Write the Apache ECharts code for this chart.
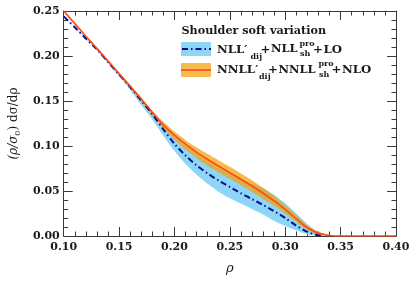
<!DOCTYPE html>
<html>
<head>
<meta charset="utf-8">
<script src="https://cdn.jsdelivr.net/npm/echarts@6/dist/echarts.min.js"></script>
<style>html,body{margin:0;padding:0;background:#fff}#c{width:415px;height:283px}</style>
</head>
<body>
<div id="c"></div>
<script>
// ---- data ----
var rhoNNLL   = [0.10,0.11,0.12,0.13,0.14,0.15,0.16,0.17,0.18,0.19,0.20,0.21,0.22,0.23,0.24,0.25,0.26,0.27,0.28,0.29,0.30,0.31,0.32,0.33,0.34,0.35,0.36,0.37,0.38,0.39,0.40];
var nnllCentral = [0.250,0.236,0.222,0.2085,0.1945,0.1805,0.1665,0.1525,0.1375,0.1235,0.112,0.102,0.093,0.085,0.0775,0.0703,0.063,0.0555,0.0475,0.039,0.0295,0.019,0.0092,0.0032,0.0006,0,0,0,0,0,0];
var nnllLow   = [0.250,0.2355,0.2215,0.2080,0.1938,0.1795,0.1652,0.149,0.134,0.1195,0.107,0.096,0.0865,0.078,0.0705,0.0635,0.0565,0.049,0.0415,0.0335,0.025,0.0155,0.0065,0.0018,0,0,0,0,0,0,0];
var nnllHigh  = [0.250,0.2365,0.2225,0.2090,0.1952,0.1815,0.1678,0.153,0.139,0.127,0.116,0.1065,0.0985,0.091,0.084,0.077,0.0695,0.062,0.0535,0.0445,0.034,0.0235,0.0118,0.0045,0.0008,0,0,0,0,0,0];

var rhoNLL    = [0.10,0.11,0.12,0.13,0.14,0.15,0.16,0.17,0.18,0.19,0.20,0.21,0.22,0.23,0.24,0.25,0.26,0.27,0.28,0.29,0.30,0.31,0.32,0.33,0.335];
var nllCentral = [0.244,0.232,0.2195,0.2075,0.1935,0.1795,0.1655,0.1505,0.1355,0.1185,0.1025,0.0895,0.0785,0.0695,0.0615,0.0545,0.0475,0.041,0.0345,0.0275,0.020,0.0115,0.0045,0.0008,0];
var nllLow    = [0.244,0.2315,0.2185,0.2062,0.1920,0.1775,0.1625,0.1455,0.1295,0.1115,0.0945,0.080,0.068,0.058,0.049,0.042,0.036,0.030,0.024,0.017,0.011,0.006,0.002,0,0];
var nllHigh   = [0.244,0.2325,0.2205,0.2088,0.1950,0.1810,0.1670,0.1515,0.138,0.1245,0.1115,0.1005,0.091,0.083,0.0755,0.069,0.063,0.0585,0.053,0.0455,0.0365,0.025,0.013,0.004,0];

var xTicks = [0.10,0.15,0.20,0.25,0.30,0.35,0.40];
var yTicks = [0.00,0.05,0.10,0.15,0.20,0.25];

var legendTitle = 'Shoulder soft variation';

function pairs(xs, ys){ return xs.map(function(x,i){ return [x, ys[i]]; }); }
function triples(xs, lo, hi){ return xs.map(function(x,i){ return [x, lo[i], hi[i]]; }); }

var axisCol = '#3a3a3a';

function mkX(show){
  return {
    type:'value', min:xTicks[0], max:xTicks[xTicks.length-1], interval:0.05,
    position: show ? 'bottom' : 'top',
    axisLine:{show:true, onZero:false, lineStyle:{color:axisCol, width:1}},
    axisTick:{show:true, inside:true, length:9, lineStyle:{color:axisCol}},
    minorTick:{show:true, splitNumber:5, length:4.5, lineStyle:{color:axisCol}},
    splitLine:{show:false},
    axisLabel:{show:show, margin:6, formatter:function(v){return v.toFixed(2);}, fontFamily:'DejaVu Serif', fontWeight:'bold', fontSize:11, color:'#1a1a1a'},
    name: show ? 'ρ' : '', nameLocation:'middle', nameGap:26,
    nameTextStyle:{fontFamily:'DejaVu Serif', fontStyle:'italic', fontSize:13, color:'#1a1a1a'}
  };
}
function mkY(show){
  return {
    type:'value', min:yTicks[0], max:yTicks[yTicks.length-1], interval:0.05,
    position: show ? 'left' : 'right',
    axisLine:{show:true, onZero:false, lineStyle:{color:axisCol, width:1}},
    axisTick:{show:true, inside:true, length:9, lineStyle:{color:axisCol}},
    minorTick:{show:true, splitNumber:5, length:4.5, lineStyle:{color:axisCol}},
    splitLine:{show:false},
    axisLabel:{show:show, margin:4, formatter:function(v){return v.toFixed(2);}, fontFamily:'DejaVu Serif', fontWeight:'bold', fontSize:11, color:'#1a1a1a'},
    name: show ? '{i|(ρ/σ}{s|0}{u|) dσ/dρ}' : '', nameLocation:'middle', nameGap:40, nameRotate:90,
    nameTextStyle:{
      rich:{
        i:{fontFamily:'DejaVu Serif', fontStyle:'italic', fontSize:12, color:'#1a1a1a', lineHeight:16, verticalAlign:'middle'},
        u:{fontFamily:'DejaVu Serif', fontSize:12, color:'#1a1a1a', lineHeight:16, verticalAlign:'middle'},
        s:{fontFamily:'DejaVu Serif', fontSize:8, color:'#1a1a1a', lineHeight:16, verticalAlign:'bottom', padding:[4,0,0,0]}
      }
    }
  };
}

var blueBand = '#8dd6f7';
var orangeBand = 'rgba(242,160,10,0.72)';
var orangeLine = '#ff4a12';
var navy = '#0d0d8c';
var blueDash = [6,3,1.5,3];

function bandSeries(name, xs, lo, hi, color, z){
  return {
    type:'custom', name:name, z:z, silent:true,
    data: triples(xs, lo, hi),
    encode:{x:0, y:[1,2]},
    renderItem:function(params, api){
      if(params.dataIndex !== 0) return null;
      var top = [], bot = [];
      for(var i=0;i<xs.length;i++){
        top.push(api.coord([xs[i], hi[i]]));
        bot.push(api.coord([xs[i], lo[i]]));
      }
      var pts = top.concat(bot.reverse());
      return {type:'polygon', shape:{points:pts, smooth:0.2}, style:{fill:color}};
    }
  };
}

var series = [
  bandSeries('NLL band', rhoNLL, nllLow, nllHigh, blueBand, 1),
  bandSeries('NNLL band', rhoNNLL, nnllLow, nnllHigh, orangeBand, 2),
  {type:'line', name:'NLL', data:pairs(rhoNLL, nllCentral), symbol:'none', smooth:0.3, lineStyle:{color:navy, width:2, type:blueDash}, z:3},
  {type:'line', name:'NNLL', data:pairs(rhoNNLL, nnllCentral), symbol:'none', smooth:0.3, lineStyle:{color:orangeLine, width:1.6}, z:4}
];

var tf = 'DejaVu Serif';
function t(x,y,txt,size,align){
  return {type:'text', z:100, style:{text:txt, x:x, y:y, fontFamily:tf, fontWeight:'bold', fontSize:size, fill:'#1a1a1a', verticalAlign:'middle', align:align||'left'}};
}

var graphic = [
  t(181.5, 31, legendTitle, 11.2),
  {type:'rect', z:100, shape:{x:181, y:42, width:30, height:14}, style:{fill:blueBand}},
  {type:'line', z:101, shape:{x1:182, y1:49, x2:211, y2:49}, style:{stroke:navy, lineWidth:2, lineDash:blueDash}},
  t(217, 49.5, 'NLL′', 11.8),
  t(250.5, 56.5, 'dij', 8),
  t(265.5, 49.5, '+', 11.8, 'center'),
  t(271, 49.5, 'NLL', 11.5),
  t(299.5, 43.5, 'pro', 8),
  t(300, 54, 'sh', 8),
  t(318, 49.5, '+', 11.8, 'center'),
  t(323.5, 49.5, 'LO', 11.8),
  {type:'rect', z:100, shape:{x:181, y:63, width:30, height:14}, style:{fill:orangeBand}},
  {type:'line', z:101, shape:{x1:181, y1:70, x2:211, y2:70}, style:{stroke:orangeLine, lineWidth:1.6}},
  t(217, 70, 'NNLL′', 11.8),
  t(259, 77, 'dij', 8),
  t(273, 70, '+', 11.8, 'center'),
  t(278.5, 70, 'NNLL', 11.5),
  t(318.5, 64, 'pro', 8),
  t(319, 74.5, 'sh', 8),
  t(336.5, 70, '+', 11.8, 'center'),
  t(342, 70, 'NLO', 11.8)
];

var chart = echarts.init(document.getElementById('c'), null, {renderer:'canvas'});
chart.setOption({
  animation:false,
  backgroundColor:'#ffffff',
  grid:{left:58, right:19, top:11, bottom:47, containLabel:false},
  xAxis:[mkX(true), mkX(false)],
  yAxis:[mkY(true), mkY(false)],
  series:series,
  graphic:graphic
});
</script>
</body>
</html>
